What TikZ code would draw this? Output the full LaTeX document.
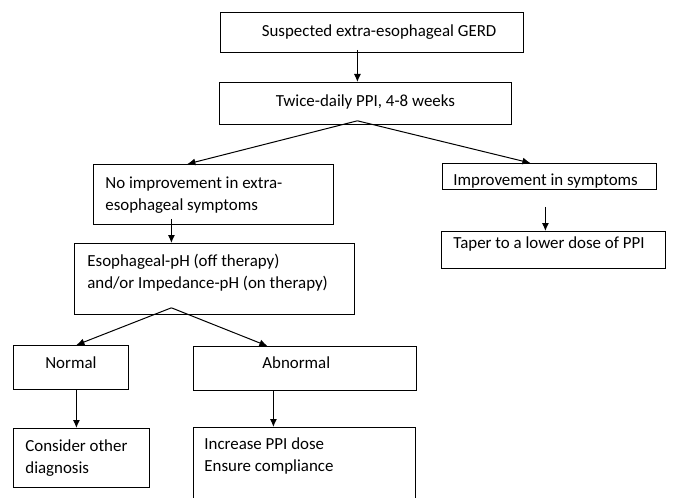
\documentclass[tikz,border=0pt]{standalone}
\usepackage{fontspec}
\setmainfont{Carlito}
\usepackage{tikz}
\usetikzlibrary{arrows.meta}

\begin{document}
\begin{tikzpicture}[->,>={Latex[length=8pt,width=7pt]},x=1pt,y=-1pt,
                    semithick]
\tikzstyle{box}=[draw=black,line width=0.8pt,anchor=north west,inner ysep=0pt,align=flush left]
\tikzset{font=\fontsize{16.9pt}{22.5pt}\selectfont}

        \useasboundingbox (0,0) rectangle (676,497);

        \node[box,inner xsep=27pt,text width=249pt,align=flush right,text height=24pt,text depth=16pt]  (gerd)     at (220,12)  {Suspected extra-esophageal GERD};
        \node[box,inner xsep=10pt,text width=272pt,align=flush center,text height=24pt,text depth=18pt] (ppi)      at (219,82)  {Twice-daily PPI, 4-8 weeks};

        \node[box,inner xsep=12pt,text width=216pt,text height=24pt,text depth=36pt]              (noimp)    at (93,164)  {No improvement in extra-\\esophageal symptoms};
        \node[box,inner xsep=13pt,text width=254pt,text height=23pt,text depth=48pt]              (phtest)   at (74,243)  {Esophageal-pH (off therapy)\\and/or Impedance-pH (on therapy)};

        \node[box,inner xsep=11pt,text width=192pt,text height=22pt,text depth=4pt]               (imp)      at (442,163) {Improvement in symptoms};
        \node[box,inner xsep=12pt,text width=200pt,text height=17pt,text depth=20pt]              (taper)    at (441,231) {Taper to a lower dose of PPI};

        \node[box,inner xsep=10pt,text width=95pt,align=flush center,text height=23pt,text depth=21pt]  (normal)   at (13,345)  {Normal};
        \node[box,inner xsep=69pt,text width=85pt,text height=22pt,text depth=22pt]               (abnormal) at (193,346) {Abnormal};

        \node[box,inner xsep=12pt,text width=112pt,text height=23pt,text depth=36pt]              (other)    at (13,428)  {Consider other\\diagnosis};
        \node[box,inner xsep=11pt,text width=200pt,text height=22pt,text depth=75pt]              (increase) at (193,427) {Increase PPI dose\\Ensure compliance};

        \coordinate (ppisplit) at ([xshift=-8pt,yshift=4pt]ppi.south);
        \coordinate (phsplit)  at ([xshift=-43pt,yshift=7pt]phtest.south);

        \path[->,line width=1pt]
        ([xshift=-14.5pt,yshift=3pt]gerd.south) edge ([xshift=-14.5pt]gerd.south |- ppi.north)
        (ppisplit) edge ([xshift=-26pt]noimp.north)
        (ppisplit) edge ([xshift=-19pt]imp.north)
        ([xshift=-42pt,yshift=6pt]noimp.south)  edge ([xshift=-42pt]noimp.south |- phtest.north)
        ([xshift=-4pt,yshift=-17pt]imp.south)   edge ([xshift=-4pt]imp.south |- taper.north)
        (phsplit)  edge ([xshift=5.5pt]normal.north)
        (phsplit)  edge ([xshift=-37.5pt]abnormal.north)
        ([xshift=5.5pt]normal.south)      edge ([xshift=5.5pt]normal.south |- other.north)
        ([xshift=-31.5pt]abnormal.south)  edge ([xshift=-31.5pt]abnormal.south |- increase.north)
        ; %end path

\end{tikzpicture}
\end{document}
